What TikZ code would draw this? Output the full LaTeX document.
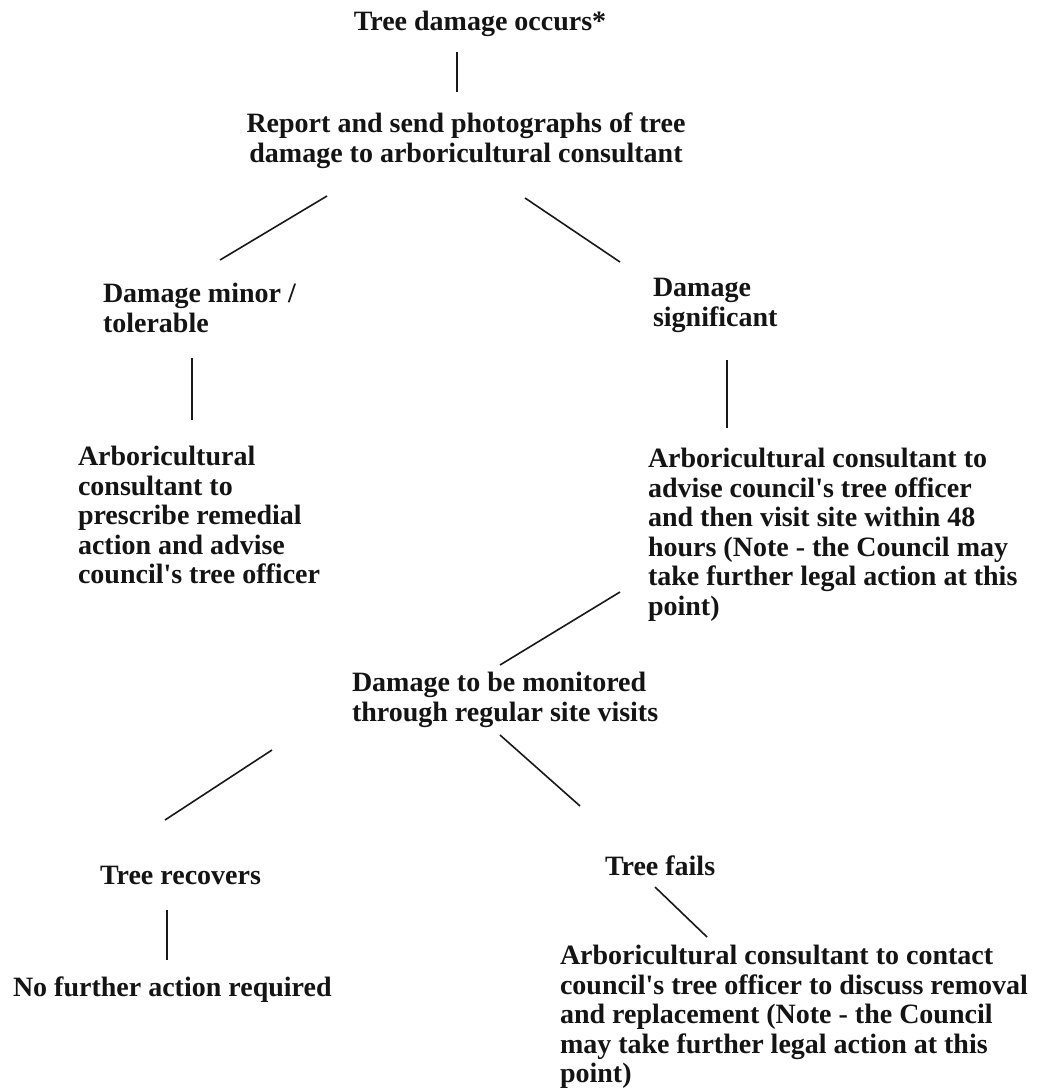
\documentclass[tikz,border=0pt]{standalone}
\usepackage{fontspec}
\setmainfont{Liberation Serif}[Ligatures=TeXOff]
\begin{document}
\begin{tikzpicture}[x=1pt,y=-1pt,
  txt/.style={inner sep=0pt,outer sep=0pt,text=black!92,
    font=\fontsize{28}{29.5}\selectfont\bfseries},
  lft/.style={txt,anchor=north west,align=left},
  ctr/.style={txt,anchor=north,align=center},
  conn/.style={line width=1.6pt,draw=black!90}]
\useasboundingbox[fill=white] (0,0) rectangle (1051,1092);
% text blocks (north = first baseline - 20.65)
\node[ctr] (t1) at (480,10) {\strut Tree damage occurs*};
\node[ctr] (t2) at (466,112) {\strut Report and send photographs of tree\\damage to arboricultural consultant};
\node[lft] (t3) at (103,282) {\strut Damage minor /\\tolerable};
\node[lft] (t4) at (78,445) {\strut Arboricultural\\consultant to\\prescribe remedial\\action and advise\\council's tree officer};
\node[lft] (t5) at (653,276) {\strut Damage\\significant};
\node[lft] (t6) at (648,447) {\strut Arboricultural consultant to\\advise council's tree officer\\and then visit site within 48\\hours (Note - the Council may\\take further legal action at this\\point)};
\node[lft] (t7) at (352,671) {\strut Damage to be monitored\\through regular site visits};
\node[lft] (t8) at (100,864) {\strut Tree recovers};
\node[lft] (t9) at (13,976) {\strut No further action required};
\node[lft] (t10) at (605,855) {\strut Tree fails};
\node[lft] (t11) at (560,944) {\strut Arboricultural consultant to contact\\council's tree officer to discuss removal\\and replacement (Note - the Council\\may take further legal action at this\\point)};
% connector end points
\coordinate (a1) at (457,52);   \coordinate (b1) at (457,92);
\coordinate (a2) at (327,196);  \coordinate (b2) at (220,260);
\coordinate (a3) at (525,198);  \coordinate (b3) at (620,262);
\coordinate (a4) at (192,358);  \coordinate (b4) at (192,420);
\coordinate (a5) at (727,360);  \coordinate (b5) at (727,428);
\coordinate (a6) at (620,592);  \coordinate (b6) at (500,665);
\coordinate (a7) at (272,750);  \coordinate (b7) at (165,820);
\coordinate (a8) at (500,735);  \coordinate (b8) at (580,806);
\coordinate (a9) at (167,910);  \coordinate (b9) at (167,960);
\coordinate (a10) at (655,887); \coordinate (b10) at (707,937);
\foreach \i in {1,...,10} { \draw[conn] (a\i) -- (b\i); }
\end{tikzpicture}
\end{document}
